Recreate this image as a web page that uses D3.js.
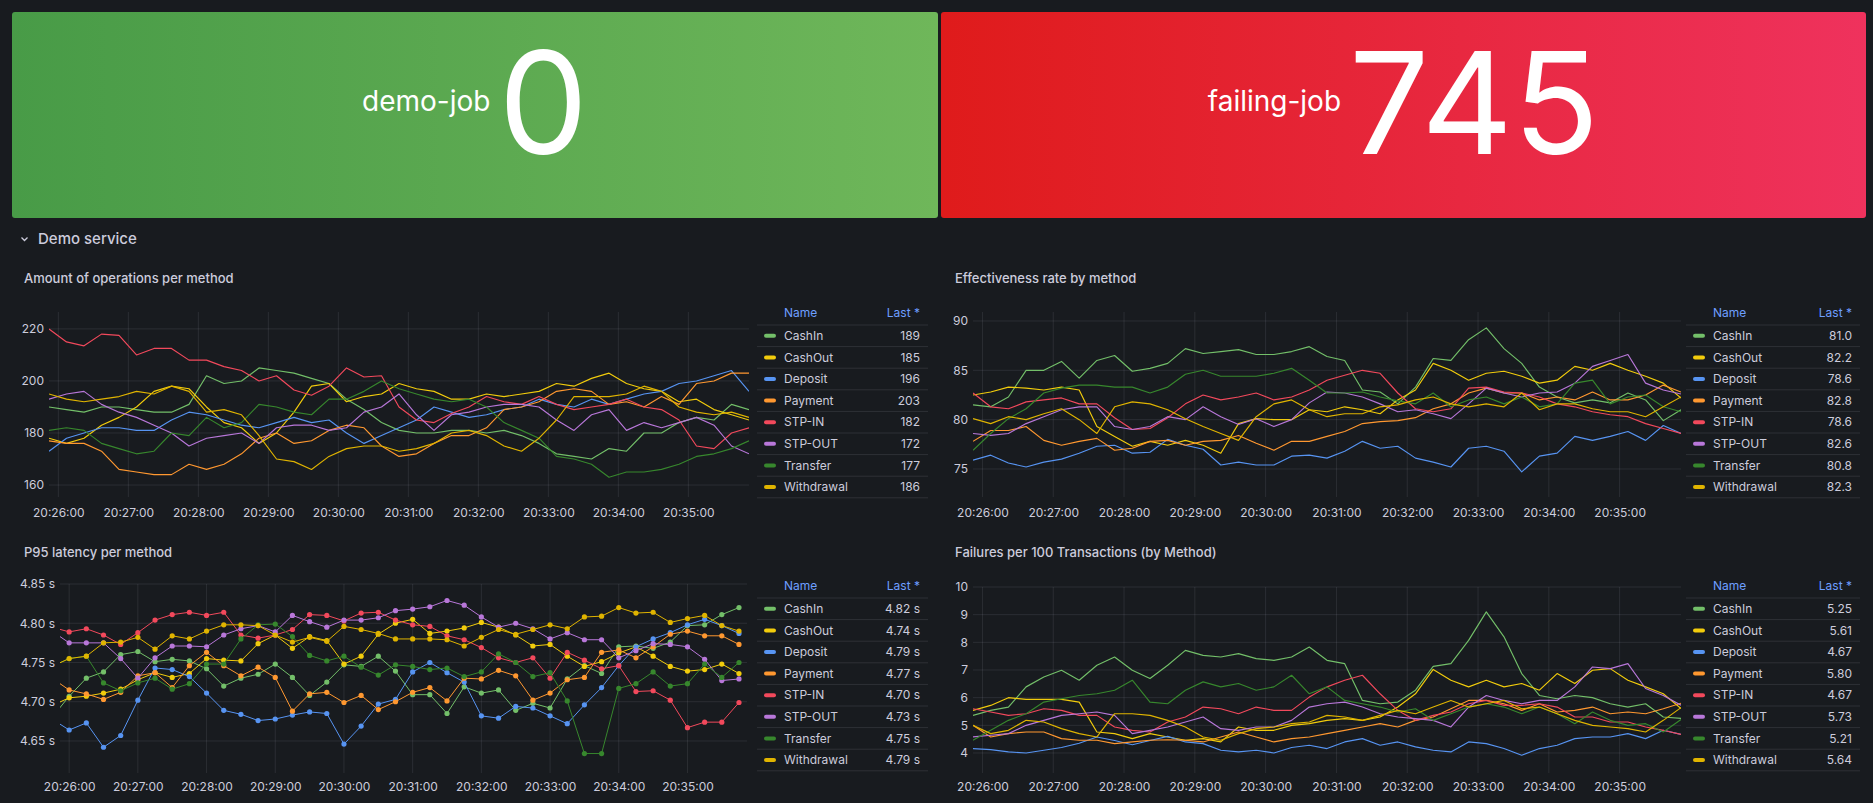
<!DOCTYPE html>
<html>
<head>
<meta charset="utf-8">
<script src="https://cdn.jsdelivr.net/npm/d3@7"></script>
<style>
  body { margin: 0; background: #181b1f; }
  svg { display: block; font-family: Inter, "Noto Sans", sans-serif; }
</style>
</head>
<body>
<svg id="dash" width="1873" height="803"></svg>
<script>
// ---- data ----
const methods = ['CashIn', 'CashOut', 'Deposit', 'Payment', 'STP-IN', 'STP-OUT', 'Transfer', 'Withdrawal'];
const colors = ['#73BF69', '#F2CC0C', '#5794F2', '#FF9830', '#F2495C', '#B877D9', '#37872D', '#E0B400'];
const timeTicks = ['20:26:00', '20:27:00', '20:28:00', '20:29:00', '20:30:00', '20:31:00', '20:32:00', '20:33:00', '20:34:00', '20:35:00'];

const statNames = ['demo-job', 'failing-job'];
const statValues = [0, 745];

// samples every 15s from 20:25:52 (dense panels) / 20:25:45 (latency panel)
const opsValues = [
  [190,189,188,190,190,189,188,188,191,202,199,200,205,204,203,201,199,193,189,184,181,180,180,181,181,180,181,179,176,172,171,170,174,173,180,180,184,186,185,191,189],
  [178,176,178,183,186,190,196,198,197,190,184,182,176,180,188,198,199,192,194,195,199,197,196,193,193,195,194,195,196,199,198,201,203,199,197,196,192,193,189,187,185],
  [173,178,180,182,182,181,181,185,188,187,185,183,182,184,186,184,185,180,176,179,182,185,190,188,186,187,189,190,193,191,190,193,191,193,195,196,199,200,202,204,196],
  [177,176,176,173,166,165,164,164,168,166,168,172,178,180,176,177,181,183,182,175,171,172,176,179,179,182,189,190,192,196,197,196,191,192,190,194,191,199,200,203,203],
  [220,215,213.5,218,217.5,210,212.5,212.5,208,208,205.5,204,200,202,196.5,194.5,198,205,201.5,202,190,185,184,187.5,190,194,192,191,194,191,189,190,191,193,190,189,185,175,174,180,182],
  [193,195,196,191,188,186,183,180,175,178,179,180,176,182,183,183,181,182,188,190,195,187,181,187,188,190,191,191,190,185,181,187,189,181,184,182,184,186,183,175,172],
  [181,182,181,176,174,172,173,180,179,186,182,184,191,190,188,187,193,193,196,200,197,195,193,192,193,190,184,181,178,171,170,168,163,165,165,166,168,171,172,174,177],
  [195,193,192,193,194,196,195,198,196,188,189,187,179,170,169,166,171,174,175,175,173,174,176,180,181,179,175,173,178,185,194,194,194,195,198,196,190,188,187,188,186]
];

const rateValues = [
  [81.5,81.3,82.3,85,85,85.9,84.2,86,86.5,84.9,85.2,85.7,87.2,86.7,86.9,87.1,86.6,86.6,86.9,87.4,86.4,86,83,82.8,81.6,83.3,86.2,86,88.1,89.3,87.2,85.7,83.3,82.3,81.7,82,81.7,82.7,82,79.9,81.0],
  [82.5,82.8,83.3,83.2,83,83.3,83,79.3,78.3,77.3,77.8,77.4,77.9,77.4,76.6,79.6,80.1,80,80,81,80.8,81.3,81,80.6,82,83,85.7,85,84,84.7,84.9,84.4,83.7,84,85.4,85,85.7,85,84.4,83.7,82.2],
  [75.9,76.4,75.6,75.2,75.7,76,76.6,77.3,77.4,76.6,76.7,78,77.4,77,75.4,75.7,75.4,75.4,76.3,76.4,76.1,76.8,77.8,77.1,77.3,76.1,75.7,75.2,77.1,77.3,76.8,74.7,76.3,76.6,78.3,77.9,78.3,78.8,77.9,79.4,78.6],
  [77.8,78.9,78.9,79.3,77.9,77.4,77.8,78.1,76.9,77.1,77.8,77.9,77.4,77.8,77.9,78.4,77.6,76.9,77.8,77.8,78.3,78.8,79.6,79.8,79.9,80.2,81.1,81.6,82.7,83.2,82.7,82.7,82,82.3,82,82.8,82,82,82.5,83.5,82.8],
  [82.7,81.3,81.1,81.8,82,82.2,81.6,81.6,80.2,79,79.1,80.2,81.6,82.5,82,82.3,82.7,82,82.3,83,84,84.5,85,84.7,82.7,81.1,80.8,81.1,83.2,83.3,82.8,82.7,82.3,81.6,81.3,80.8,80.5,80.3,79.6,79.1,78.6],
  [78.6,78.4,78.6,79.6,80.3,81,81.3,81.3,79.3,79,79.3,80.3,80,81.3,80.3,79.5,80.1,79.3,80,81.7,82.8,82.7,82.3,81.6,80.8,81,80.6,80.1,81.6,83.2,82.7,82.3,82.7,82.8,83.7,85.4,86,86.6,83.7,83,82.6],
  [76.9,78.6,80.1,81.1,82.7,83.2,83.5,83.5,83.3,83.3,82.7,83.3,84.6,85,84.4,84.4,84.4,84.7,85.2,84,82.7,82.7,82.8,82.3,81.9,81.6,82.7,81.3,82,82.3,81.6,82.3,81.3,81.6,83.7,84,81.6,82.3,82.5,81.3,80.8],
  [80.1,79.6,80.3,80,80.6,81.1,80,78.6,81.3,81.8,81.6,81,80.1,79.3,78.6,77.9,80.3,81.6,82,81,80.3,80.6,80.6,81.3,81.5,82,82.3,81.6,81.3,81.6,81.3,82.7,81,81.6,81.6,81.1,80.8,80.8,80.3,81.3,82.3]
];

const latencyValues = [
  [4.68,4.707,4.73,4.738,4.76,4.764,4.751,4.754,4.752,4.742,4.72,4.73,4.735,4.748,4.731,4.708,4.725,4.747,4.745,4.758,4.739,4.709,4.709,4.685,4.719,4.711,4.715,4.689,4.698,4.692,4.729,4.746,4.736,4.77,4.771,4.768,4.776,4.797,4.798,4.811,4.82],
  [4.695,4.705,4.707,4.711,4.716,4.728,4.737,4.731,4.736,4.755,4.753,4.752,4.774,4.785,4.768,4.783,4.778,4.748,4.758,4.786,4.8,4.805,4.787,4.79,4.794,4.801,4.795,4.785,4.771,4.773,4.758,4.745,4.751,4.762,4.77,4.758,4.745,4.739,4.741,4.748,4.736],
  [4.678,4.664,4.673,4.642,4.657,4.702,4.743,4.741,4.732,4.711,4.689,4.684,4.676,4.678,4.683,4.687,4.685,4.646,4.669,4.697,4.703,4.738,4.75,4.737,4.725,4.682,4.679,4.694,4.692,4.682,4.672,4.696,4.718,4.746,4.77,4.78,4.788,4.798,4.805,4.797,4.787],
  [4.73,4.715,4.71,4.703,4.712,4.733,4.737,4.718,4.746,4.763,4.746,4.733,4.744,4.731,4.688,4.71,4.712,4.699,4.708,4.69,4.7,4.712,4.718,4.701,4.73,4.729,4.74,4.733,4.702,4.711,4.728,4.731,4.763,4.766,4.756,4.77,4.786,4.79,4.784,4.784,4.773],
  [4.795,4.789,4.793,4.785,4.773,4.788,4.804,4.811,4.814,4.81,4.814,4.785,4.781,4.785,4.792,4.811,4.81,4.803,4.813,4.814,4.804,4.798,4.796,4.784,4.779,4.769,4.756,4.75,4.756,4.73,4.763,4.753,4.742,4.746,4.713,4.714,4.702,4.667,4.674,4.674,4.699],
  [4.79,4.775,4.775,4.775,4.755,4.73,4.756,4.771,4.771,4.77,4.785,4.793,4.797,4.789,4.81,4.802,4.795,4.804,4.804,4.807,4.816,4.818,4.821,4.829,4.823,4.808,4.795,4.8,4.793,4.78,4.788,4.779,4.779,4.756,4.765,4.774,4.773,4.77,4.754,4.727,4.729],
  [4.745,4.755,4.758,4.724,4.714,4.724,4.73,4.716,4.723,4.748,4.748,4.78,4.798,4.799,4.783,4.759,4.752,4.758,4.744,4.734,4.747,4.745,4.741,4.743,4.732,4.738,4.761,4.75,4.732,4.737,4.701,4.634,4.634,4.717,4.723,4.738,4.72,4.723,4.748,4.731,4.75],
  [4.745,4.755,4.758,4.775,4.776,4.782,4.767,4.784,4.78,4.79,4.798,4.798,4.797,4.785,4.776,4.782,4.777,4.796,4.792,4.787,4.78,4.78,4.78,4.779,4.771,4.782,4.792,4.786,4.792,4.798,4.793,4.808,4.809,4.82,4.813,4.814,4.801,4.806,4.81,4.797,4.79]
];

const failureValues = [
  [5.36,5.54,5.66,6.39,6.75,6.99,6.63,7.17,7.47,6.99,6.69,7.17,7.71,7.53,7.47,7.59,7.41,7.35,7.47,7.83,7.35,7.23,5.9,5.78,5.84,6.27,7.13,7.23,8.07,9.1,8.2,6.87,6.08,5.96,6.08,6,5.78,5.66,5.78,5.3,5.25],
  [5.54,5.72,6,5.94,5.94,5.94,5.84,4.76,4.7,4.52,4.7,4.58,4.46,4.52,4.4,4.94,4.82,4.82,5,5.06,5.18,5.24,5.18,5.3,5.66,6.14,7.02,6.63,6.39,6.63,6.39,6.51,6.27,6.87,6.51,6.99,7.05,6.63,6.39,6.14,5.61],
  [4.16,4.12,4.04,4,4.1,4.2,4.35,4.58,4.45,4.3,4.45,4.6,4.4,4.34,4.1,4.04,4.1,4,4.2,4.28,4.16,4.4,4.52,4.28,4.4,4.22,4.1,4.04,4.4,4.34,4.16,3.92,4.16,4.28,4.52,4.58,4.58,4.7,4.52,4.82,4.67],
  [5,4.58,4.7,4.76,4.76,4.52,4.46,4.46,4.34,4.4,4.46,4.48,4.46,4.4,4.58,4.76,4.58,4.4,4.52,4.58,4.7,4.82,4.94,5.06,4.94,5.18,5.3,5.6,5.9,5.9,5.78,5.54,5.78,5.48,5.54,5.66,5.42,5.48,5.42,5.6,5.8],
  [5.6,5.48,5.36,5.42,5.6,5.54,5.36,5.36,4.94,4.82,4.76,5.12,5.3,5.66,5.6,5.42,5.66,5.54,5.54,6.02,6.39,6.63,6.81,6.14,5.54,5.18,5.36,5.48,5.78,5.9,5.72,5.72,5.78,5.66,5.3,5.3,5.12,5.12,4.94,4.82,4.67],
  [4.58,4.64,4.7,5,5.18,5.36,5.42,5.48,5.36,4.7,4.82,4.94,5.12,5.3,4.88,4.82,4.94,4.94,5.18,5.66,5.78,5.84,5.66,5.42,5.3,5.24,5.18,4.94,5.66,6.08,5.9,5.78,5.9,5.9,6.39,7.11,7.05,7.23,6.33,6.08,5.73],
  [4.46,4.82,5.18,5.42,5.84,5.96,6.08,6.14,6.27,6.63,5.84,5.78,6.27,6.57,6.39,6.51,6.27,6.39,6.81,6.14,6.39,5.9,5.78,5.66,5.48,5.6,5.18,5.42,5.66,5.78,5.66,5.42,5.66,5.42,5.06,5.48,5.18,5,5.06,4.76,5.21],
  [5,4.7,4.82,5.18,5.12,4.88,4.7,4.58,5.42,5.42,5.36,5.18,4.94,4.58,4.46,4.7,4.88,4.94,5.06,5.12,5.36,5.3,5.18,5.36,5.54,5.42,5.66,5.9,5.66,5.78,5.9,5.6,5.66,5.42,5.18,5,4.94,4.88,4.76,5.18,5.64]
];

const opsTicks = [160, 180, 200, 220];
const rateTicks = [75, 80, 85, 90];
const latencyTicks = [4.65, 4.70, 4.75, 4.80, 4.85];
const failureTicks = [4, 5, 6, 7, 8, 9, 10];

// ---- helpers ----
const parseT = d3.timeParse('%H:%M:%S');
const stepMs = 15000;
const timesFrom = (start, n) => d3.range(n).map(i => new Date(parseT(start).getTime() + i * stepMs));

const svg = d3.select('#dash');
svg.append('rect').attr('width', 1873).attr('height', 803).attr('fill', '#181b1f');

// ---- stat panels ----
const defs = svg.append('defs');
const grads = [['gGreen', '#489b47', '#6fb75a'], ['gRed', '#df1b1b', '#ef325d']];
grads.forEach(([id, a, b]) => {
  const g = defs.append('linearGradient').attr('id', id).attr('x1', 0).attr('x2', 1).attr('y1', 0).attr('y2', 0);
  g.append('stop').attr('offset', 0).attr('stop-color', a);
  g.append('stop').attr('offset', 1).attr('stop-color', b);
});

const statBoxes = [{x: 12, w: 926, fill: 'url(#gGreen)'}, {x: 941, w: 925, fill: 'url(#gRed)'}];
statBoxes.forEach((b, i) => {
  const g = svg.append('g');
  g.append('rect').attr('x', b.x).attr('y', 12).attr('width', b.w).attr('height', 206).attr('rx', 3).attr('fill', b.fill);
  const name = g.append('text').attr('y', 111).attr('fill', '#fff').attr('font-size', 28).text(statNames[i]);
  const val = g.append('text').attr('y', 154).attr('fill', '#fff').attr('font-size', 142).text(statValues[i]);
  const nw = name.node().getComputedTextLength();
  const vw = val.node().getComputedTextLength();
  const total = nw + 8 + vw;
  const left = b.x + b.w / 2 - total / 2;
  name.attr('x', left);
  val.attr('x', left + nw + 8);
});

// ---- row header ----
svg.append('path').attr('d', 'M21.5,237.5 L24.5,240.5 L27.5,237.5').attr('fill', 'none')
  .attr('stroke', '#ccccdc').attr('stroke-width', 1.3);
svg.append('text').attr('x', 38).attr('y', 244).attr('fill', '#ccccdc').attr('font-size', 15)
  .attr('font-weight', 500).text('Demo service');

// ---- time series panels ----
const panels = [
  {title: 'Amount of operations per method', tx: 24, ty: 283, values: opsValues, start: '20:25:52',
   left: 49, right: 749, top: 312, bottom: 497, ydom: [155.4, 226.5], yticks: opsTicks, yfmt: d3.format('d'),
   lx: 757, lw: 171, sep: 325, lastFmt: d3.format('.0f'), points: false, pad: 11},
  {title: 'Effectiveness rate by method', tx: 955, ty: 283, values: rateValues, start: '20:25:52',
   left: 973, right: 1681, top: 312, bottom: 497, ydom: [72.16, 90.91], yticks: rateTicks, yfmt: d3.format('d'),
   lx: 1686, lw: 174, sep: 325, lastFmt: d3.format('.1f'), points: false, pad: 11},
  {title: 'P95 latency per method', tx: 24, ty: 557, values: latencyValues, start: '20:25:45',
   left: 60, right: 747, top: 584, bottom: 773, ydom: [4.6092, 4.85], yticks: latencyTicks, yfmt: v => d3.format('.2f')(v) + ' s',
   lx: 757, lw: 171, sep: 598, lastFmt: v => d3.format('.2f')(v) + ' s', points: true, pad: 9},
  {title: 'Failures per 100 Transactions (by Method)', tx: 955, ty: 557, values: failureValues, start: '20:25:52',
   left: 973, right: 1681, top: 587, bottom: 773, ydom: [3.277, 10], yticks: failureTicks, yfmt: d3.format('d'),
   lx: 1686, lw: 174, sep: 598, lastFmt: d3.format('.2f'), points: false, pad: 9}
];

const gridColor = 'rgba(204,204,220,0.11)';
const textColor = '#ccccdc';

panels.forEach((p, pi) => {
  const g = svg.append('g');
  g.append('text').attr('x', p.tx).attr('y', p.ty).attr('fill', textColor).attr('font-size', 13)
    .attr('font-weight', 500).text(p.title);

  const times = timesFrom(p.start, p.values[0].length);
  const t0 = parseT('20:25:52');
  const x = d3.scaleTime().domain([t0, new Date(t0.getTime() + 600000)]).range([p.left, p.right]);
  const y = d3.scaleLinear().domain(p.ydom).range([p.bottom, p.top]);
  const tickDates = timeTicks.map(parseT);

  // grid
  g.append('g').selectAll('line').data(p.yticks).join('line')
    .attr('x1', p.left).attr('x2', p.right).attr('y1', d => y(d)).attr('y2', d => y(d))
    .attr('stroke', gridColor);
  g.append('g').selectAll('line').data(tickDates).join('line')
    .attr('x1', d => x(d)).attr('x2', d => x(d)).attr('y1', p.top).attr('y2', p.bottom)
    .attr('stroke', gridColor);

  // axes (labels only)
  const xa = g.append('g').attr('transform', `translate(0,${p.bottom})`)
    .call(d3.axisBottom(x).tickValues(tickDates).tickSize(0).tickPadding(p.pad).tickFormat(d3.timeFormat('%H:%M:%S')));
  const ya = g.append('g').attr('transform', `translate(${p.left},0)`)
    .call(d3.axisLeft(y).tickValues(p.yticks).tickSize(0).tickPadding(5).tickFormat(p.yfmt));
  [xa, ya].forEach(a => {
    a.select('.domain').remove();
    a.selectAll('text').attr('fill', textColor).attr('font-size', 12).attr('font-family', 'Inter, sans-serif');
  });

  // series
  const clipId = 'clip' + pi;
  defs.append('clipPath').attr('id', clipId).append('rect')
    .attr('x', p.left).attr('y', p.top - 4).attr('width', p.right - p.left).attr('height', p.bottom - p.top + 4);
  const plot = g.append('g').attr('clip-path', `url(#${clipId})`);
  const line = d3.line().x((d, i) => x(times[i])).y(d => y(d));
  p.values.forEach((vals, si) => {
    plot.append('path').attr('d', line(vals)).attr('fill', 'none')
      .attr('stroke', colors[si]).attr('stroke-width', p.points ? 1 : 1.15).attr('stroke-linejoin', 'round');
    if (p.points) {
      plot.append('g').selectAll('circle').data(vals).join('circle')
        .attr('cx', (d, i) => x(times[i])).attr('cy', d => y(d)).attr('r', 2.6).attr('fill', colors[si]);
    }
  });

  // legend table
  const lg = g.append('g');
  const rowH = 21.6;
  const sx = p.lx + 7, tx = p.lx + 27, vx = p.lx + p.lw - 8;
  lg.append('text').attr('x', tx).attr('y', p.sep - 12).attr('dy', '0.35em').attr('fill', '#6E9FFF')
    .attr('font-size', 12).text('Name');
  lg.append('text').attr('x', vx).attr('y', p.sep - 12).attr('dy', '0.35em').attr('text-anchor', 'end')
    .attr('fill', '#6E9FFF').attr('font-size', 12).text('Last *');
  lg.selectAll('line.sep').data(d3.range(methods.length + 1)).join('line')
    .attr('x1', p.lx).attr('x2', p.lx + p.lw)
    .attr('y1', k => p.sep + k * rowH).attr('y2', k => p.sep + k * rowH)
    .attr('stroke', 'rgba(204,204,220,0.12)');
  methods.forEach((m, k) => {
    const cy = p.sep + rowH / 2 + k * rowH;
    lg.append('rect').attr('x', sx).attr('y', cy - 2).attr('width', 12).attr('height', 4).attr('rx', 2)
      .attr('fill', colors[k]);
    lg.append('text').attr('x', tx).attr('y', cy).attr('dy', '0.35em').attr('fill', textColor)
      .attr('font-size', 12).text(m);
    const vals = p.values[k];
    lg.append('text').attr('x', vx).attr('y', cy).attr('dy', '0.35em').attr('text-anchor', 'end')
      .attr('fill', textColor).attr('font-size', 12).text(p.lastFmt(vals[vals.length - 1]));
  });
});
</script>
</body>
</html>
